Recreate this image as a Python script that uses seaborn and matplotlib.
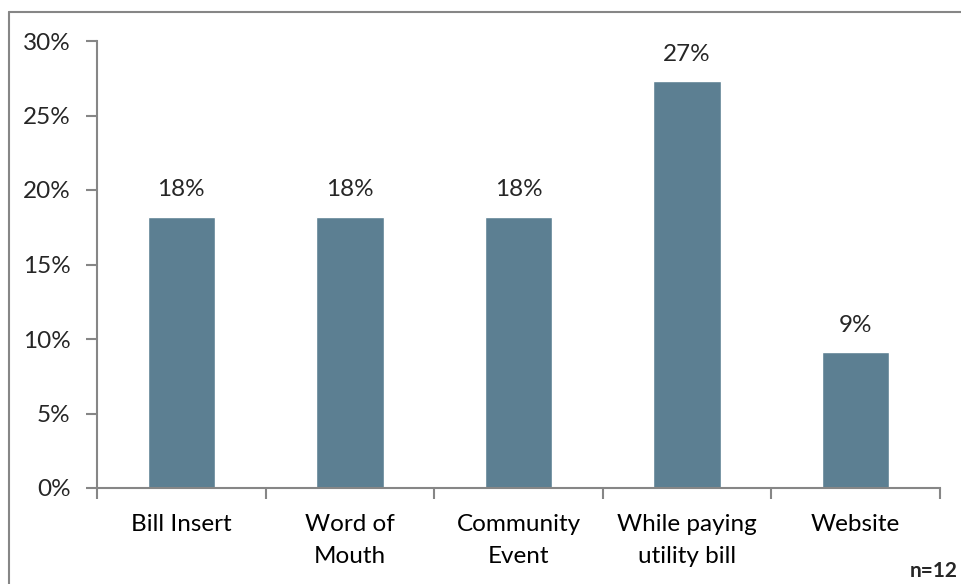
import matplotlib
matplotlib.use("Agg")
import matplotlib.pyplot as plt
import seaborn as sns
import pandas as pd
from matplotlib.lines import Line2D
from matplotlib.ticker import FixedLocator, PercentFormatter

categories = ["Bill Insert", "Word of\nMouth", "Community\nEvent", "While paying\nutility bill", "Website"]
values = [18.2, 18.2, 18.2, 27.3, 9.1]
labels = ["18%", "18%", "18%", "27%", "9%"]
y_ticks = [0, 5, 10, 15, 20, 25, 30]

df = pd.DataFrame({"source": categories, "pct": values})

sns.set_style("white")
plt.rcParams['font.family'] = ['Lato', 'DejaVu Sans']

fig = plt.figure(figsize=(9.61, 5.84), dpi=100)
ax = fig.add_axes([97 / 961, 1 - 488 / 584, (940 - 97) / 961, (488 - 41) / 584])

sns.barplot(data=df, x="source", y="pct", color="#5C7F92", width=0.4, saturation=1, ax=ax)

ax.set_xlim(-0.5, 4.5)
ax.set_ylim(0, 30)
ax.set_yticks(y_ticks)
ax.yaxis.set_major_formatter(PercentFormatter(decimals=0))
ax.set_xlabel("")
ax.set_ylabel("")

# category boundary ticks like Excel
ax.xaxis.set_minor_locator(FixedLocator([i - 0.5 for i in range(len(categories) + 1)]))
ax.tick_params(axis="x", which="major", length=0, pad=19, labelsize=17.5, colors="black")
ax.tick_params(axis="x", which="minor", length=8, width=1.5, color="#868686", direction="out", bottom=True)
ax.tick_params(axis="y", length=8, width=1.5, color="#868686", direction="out", left=True, pad=11, labelsize=17.5)
for t in ax.get_xticklabels():
    t.set_linespacing(1.6)

for s in ["top", "right"]:
    ax.spines[s].set_visible(False)
for s in ["left", "bottom"]:
    ax.spines[s].set_color("#868686")
    ax.spines[s].set_linewidth(1.5)

ax.bar_label(ax.containers[0], labels=labels, padding=12, fontsize=17.5)

fig.text(0.997, 0.005, "n=12", ha="right", va="bottom", fontsize=15, fontweight="bold")

# outer chart border
fig.add_artist(Line2D([9 / 961, 1], [1 - 11.5 / 584] * 2, color="#868686", lw=1.5, transform=fig.transFigure))
fig.add_artist(Line2D([9 / 961] * 2, [0, 1 - 11.5 / 584], color="#868686", lw=1.5, transform=fig.transFigure))

fig.savefig("out.png", dpi=100)
